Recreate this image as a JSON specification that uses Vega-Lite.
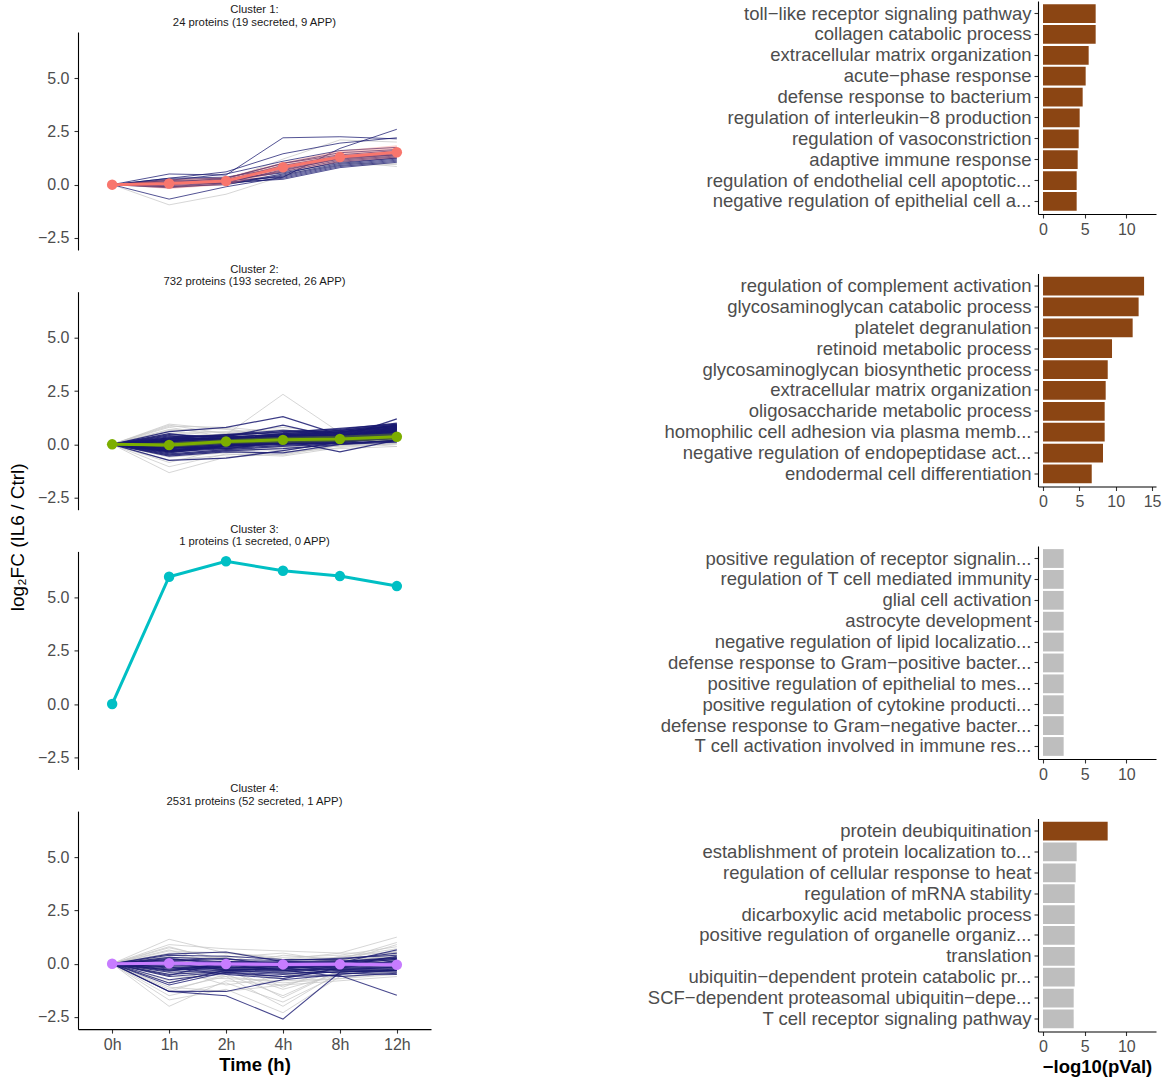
{
 "$schema": "https://vega.github.io/schema/vega-lite/v6.json",
 "padding": {"left": 9, "top": 1, "right": 2, "bottom": 1},
 "background": "white",
 "datasets": {
  "lines": [
   {"id":"1o1","c":1,"g":"o","0h":0,"1h":-0.95,"2h":-0.45,"4h":0.4,"8h":1.1,"12h":0.85},
   {"id":"1o2","c":1,"g":"o","0h":0,"1h":0.1,"2h":0.2,"4h":1.2,"8h":2.1,"12h":2.0},
   {"id":"1o3","c":1,"g":"o","0h":0,"1h":0.05,"2h":0.15,"4h":0.6,"8h":1.0,"12h":1.0},
   {"id":"1o4","c":1,"g":"o","0h":0,"1h":0.2,"2h":0.3,"4h":0.9,"8h":1.2,"12h":1.3},
   {"id":"1o5","c":1,"g":"o","0h":0,"1h":-0.1,"2h":0.0,"4h":0.5,"8h":0.9,"12h":0.95},
   {"id":"1s1","c":1,"g":"s","0h":0,"1h":0.5,"2h":0.45,"4h":2.2,"8h":2.25,"12h":2.15},
   {"id":"1s2","c":1,"g":"s","0h":0,"1h":-0.68,"2h":-0.1,"4h":0.35,"8h":1.7,"12h":2.6},
   {"id":"1s3","c":1,"g":"s","0h":0,"1h":0.3,"2h":0.6,"4h":1.45,"8h":1.95,"12h":2.2},
   {"id":"1s4","c":1,"g":"s","0h":0,"1h":0.2,"2h":0.5,"4h":1.1,"8h":1.6,"12h":1.75},
   {"id":"1s5","c":1,"g":"s","0h":0,"1h":0.1,"2h":0.3,"4h":1.0,"8h":1.4,"12h":1.6},
   {"id":"1s6","c":1,"g":"s","0h":0,"1h":0.05,"2h":0.2,"4h":0.9,"8h":1.35,"12h":1.5},
   {"id":"1s7","c":1,"g":"s","0h":0,"1h":0.15,"2h":0.25,"4h":0.75,"8h":1.25,"12h":1.45},
   {"id":"1s8","c":1,"g":"s","0h":0,"1h":-0.05,"2h":0.1,"4h":0.7,"8h":1.2,"12h":1.4},
   {"id":"1s9","c":1,"g":"s","0h":0,"1h":0.0,"2h":0.15,"4h":0.6,"8h":1.15,"12h":1.35},
   {"id":"1s10","c":1,"g":"s","0h":0,"1h":0.1,"2h":0.05,"4h":0.5,"8h":1.1,"12h":1.3},
   {"id":"1s11","c":1,"g":"s","0h":0,"1h":-0.1,"2h":0.0,"4h":0.45,"8h":1.0,"12h":1.25},
   {"id":"1s12","c":1,"g":"s","0h":0,"1h":0.2,"2h":0.1,"4h":0.4,"8h":0.95,"12h":1.2},
   {"id":"1s13","c":1,"g":"s","0h":0,"1h":0.05,"2h":0.2,"4h":0.35,"8h":0.9,"12h":1.15},
   {"id":"1s14","c":1,"g":"s","0h":0,"1h":-0.15,"2h":0.05,"4h":0.3,"8h":0.85,"12h":1.1},
   {"id":"1s15","c":1,"g":"s","0h":0,"1h":0.3,"2h":0.35,"4h":0.8,"8h":1.3,"12h":1.5},
   {"id":"1s16","c":1,"g":"s","0h":0,"1h":0.1,"2h":0.15,"4h":0.65,"8h":1.25,"12h":1.4},
   {"id":"1s17","c":1,"g":"s","0h":0,"1h":0.0,"2h":0.25,"4h":0.55,"8h":1.05,"12h":1.25},
   {"id":"1s18","c":1,"g":"s","0h":0,"1h":0.25,"2h":0.3,"4h":1.0,"8h":1.5,"12h":1.65},
   {"id":"1s19","c":1,"g":"s","0h":0,"1h":-0.1,"2h":0.1,"4h":0.25,"8h":0.8,"12h":1.05},
   {"id":"2o1","c":2,"g":"o","0h":0,"1h":-1.33,"2h":-0.6,"4h":-0.45,"8h":-0.05,"12h":0.15},
   {"id":"2o2","c":2,"g":"o","0h":0,"1h":0.2,"2h":0.45,"4h":2.35,"8h":0.55,"12h":0.45},
   {"id":"2o3","c":2,"g":"o","0h":0,"1h":-1.05,"2h":-0.45,"4h":-0.55,"8h":-0.15,"12h":0.05},
   {"id":"2o4","c":2,"g":"o","0h":0,"1h":0.95,"2h":0.7,"4h":0.35,"8h":0.2,"12h":0.3},
   {"id":"2o5","c":2,"g":"o","0h":0,"1h":0.85,"2h":0.8,"4h":0.55,"8h":0.45,"12h":0.6},
   {"id":"2o6","c":2,"g":"o","0h":0,"1h":-0.85,"2h":-0.2,"4h":-0.3,"8h":0.1,"12h":-0.1},
   {"id":"2o7","c":2,"g":"o","0h":0,"1h":0.7,"2h":0.55,"4h":0.8,"8h":0.5,"12h":0.55},
   {"id":"2o8","c":2,"g":"o","0h":0,"1h":0.6,"2h":0.4,"4h":0.2,"8h":0.3,"12h":0.45},
   {"id":"2o9","c":2,"g":"o","0h":0,"1h":-0.6,"2h":-0.4,"4h":-0.15,"8h":-0.1,"12h":0.05},
   {"id":"2o10","c":2,"g":"o","0h":0,"1h":0.5,"2h":0.6,"4h":0.45,"8h":0.6,"12h":0.7},
   {"id":"2o11","c":2,"g":"o","0h":0,"1h":-0.4,"2h":-0.1,"4h":0.1,"8h":0.0,"12h":0.2},
   {"id":"2o12","c":2,"g":"o","0h":0,"1h":0.4,"2h":0.2,"4h":0.0,"8h":0.15,"12h":0.25},
   {"id":"2o13","c":2,"g":"o","0h":0,"1h":-0.75,"2h":-0.5,"4h":-0.35,"8h":-0.2,"12h":-0.1},
   {"id":"2o14","c":2,"g":"o","0h":0,"1h":0.8,"2h":0.35,"4h":0.6,"8h":0.35,"12h":0.4},
   {"id":"2o15","c":2,"g":"o","0h":0,"1h":0.3,"2h":0.5,"4h":0.7,"8h":0.4,"12h":0.8},
   {"id":"2o16","c":2,"g":"o","0h":0,"1h":-0.3,"2h":0.1,"4h":-0.2,"8h":0.2,"12h":0.3},
   {"id":"2o17","c":2,"g":"o","0h":0,"1h":0.65,"2h":0.75,"4h":0.3,"8h":0.55,"12h":0.65},
   {"id":"2o18","c":2,"g":"o","0h":0,"1h":-0.5,"2h":-0.25,"4h":0.25,"8h":0.05,"12h":0.1},
   {"id":"2o19","c":2,"g":"o","0h":0,"1h":0.15,"2h":-0.3,"4h":-0.5,"8h":-0.05,"12h":0.0},
   {"id":"2o20","c":2,"g":"o","0h":0,"1h":0.9,"2h":0.5,"4h":0.1,"8h":0.25,"12h":0.35},
   {"id":"2s1","c":2,"g":"s","0h":0,"1h":0.6,"2h":0.8,"4h":1.3,"8h":0.45,"12h":0.65},
   {"id":"2s2","c":2,"g":"s","0h":0,"1h":-0.75,"2h":-0.65,"4h":-0.3,"8h":0.1,"12h":0.3},
   {"id":"2s3","c":2,"g":"s","0h":0,"1h":0.45,"2h":0.35,"4h":0.9,"8h":0.3,"12h":1.2},
   {"id":"2s4","c":2,"g":"s","0h":0,"1h":-0.3,"2h":-0.1,"4h":0.2,"8h":-0.35,"12h":0.2},
   {"id":"2s5","c":2,"g":"s","0h":0,"1h":0.35,"2h":0.4,"4h":0.6,"8h":0.7,"12h":1.0},
   {"id":"2s6","c":2,"g":"s","0h":0,"1h":0.3,"2h":0.45,"4h":0.55,"8h":0.75,"12h":0.95},
   {"id":"2s7","c":2,"g":"s","0h":0,"1h":0.25,"2h":0.3,"4h":0.5,"8h":0.65,"12h":0.9},
   {"id":"2s8","c":2,"g":"s","0h":0,"1h":0.2,"2h":0.35,"4h":0.45,"8h":0.6,"12h":0.85},
   {"id":"2s9","c":2,"g":"s","0h":0,"1h":0.15,"2h":0.25,"4h":0.4,"8h":0.55,"12h":0.8},
   {"id":"2s10","c":2,"g":"s","0h":0,"1h":0.1,"2h":0.3,"4h":0.35,"8h":0.5,"12h":0.75},
   {"id":"2s11","c":2,"g":"s","0h":0,"1h":0.05,"2h":0.2,"4h":0.3,"8h":0.45,"12h":0.7},
   {"id":"2s12","c":2,"g":"s","0h":0,"1h":0.0,"2h":0.15,"4h":0.3,"8h":0.4,"12h":0.65},
   {"id":"2s13","c":2,"g":"s","0h":0,"1h":-0.05,"2h":0.1,"4h":0.25,"8h":0.35,"12h":0.6},
   {"id":"2s14","c":2,"g":"s","0h":0,"1h":-0.1,"2h":0.05,"4h":0.2,"8h":0.3,"12h":0.55},
   {"id":"2s15","c":2,"g":"s","0h":0,"1h":-0.15,"2h":0.0,"4h":0.15,"8h":0.25,"12h":0.5},
   {"id":"2s16","c":2,"g":"s","0h":0,"1h":-0.2,"2h":-0.05,"4h":0.1,"8h":0.2,"12h":0.45},
   {"id":"2s17","c":2,"g":"s","0h":0,"1h":-0.25,"2h":-0.1,"4h":0.05,"8h":0.15,"12h":0.4},
   {"id":"2s18","c":2,"g":"s","0h":0,"1h":-0.3,"2h":-0.15,"4h":0.0,"8h":0.1,"12h":0.35},
   {"id":"2s19","c":2,"g":"s","0h":0,"1h":-0.35,"2h":-0.2,"4h":-0.05,"8h":0.08,"12h":0.3},
   {"id":"2s20","c":2,"g":"s","0h":0,"1h":-0.4,"2h":-0.1,"4h":0.05,"8h":0.05,"12h":0.2},
   {"id":"2s21","c":2,"g":"s","0h":0,"1h":-0.45,"2h":-0.25,"4h":-0.1,"8h":0.05,"12h":0.15},
   {"id":"2s22","c":2,"g":"s","0h":0,"1h":0.3,"2h":0.2,"4h":0.4,"8h":0.3,"12h":0.5},
   {"id":"2s23","c":2,"g":"s","0h":0,"1h":0.2,"2h":0.1,"4h":0.3,"8h":0.35,"12h":0.45},
   {"id":"2s24","c":2,"g":"s","0h":0,"1h":-0.2,"2h":0.2,"4h":0.35,"8h":0.45,"12h":0.6},
   {"id":"2s25","c":2,"g":"s","0h":0,"1h":0.1,"2h":0.4,"4h":0.2,"8h":0.25,"12h":0.7},
   {"id":"2s26","c":2,"g":"s","0h":0,"1h":-0.5,"2h":-0.3,"4h":-0.2,"8h":0.0,"12h":0.1},
   {"id":"2s27","c":2,"g":"s","0h":0,"1h":0.4,"2h":0.15,"4h":0.15,"8h":0.4,"12h":0.8},
   {"id":"2s28","c":2,"g":"s","0h":0,"1h":-0.1,"2h":-0.2,"4h":0.1,"8h":0.2,"12h":0.25},
   {"id":"2s29","c":2,"g":"s","0h":0,"1h":0.05,"2h":0.05,"4h":0.0,"8h":0.15,"12h":0.3},
   {"id":"2s30","c":2,"g":"s","0h":0,"1h":0.25,"2h":0.45,"4h":0.65,"8h":0.55,"12h":0.9},
   {"id":"2s31","c":2,"g":"s","0h":0,"1h":-0.55,"2h":-0.35,"4h":-0.4,"8h":0.0,"12h":0.2},
   {"id":"2s32","c":2,"g":"s","0h":0,"1h":0.15,"2h":0.3,"4h":0.15,"8h":0.3,"12h":0.6},
   {"id":"2s33","c":2,"g":"s","0h":0,"1h":-0.35,"2h":-0.05,"4h":0.3,"8h":0.1,"12h":0.4},
   {"id":"2s34","c":2,"g":"s","0h":0,"1h":0.5,"2h":0.2,"4h":0.05,"8h":0.2,"12h":0.35},
   {"id":"2s35","c":2,"g":"s","0h":0,"1h":0.0,"2h":0.25,"4h":0.45,"8h":0.35,"12h":0.75},
   {"id":"2s36","c":2,"g":"s","0h":0,"1h":0.1,"2h":0.2,"4h":0.4,"8h":0.6,"12h":0.85},
   {"id":"2s37","c":2,"g":"s","0h":0,"1h":-0.05,"2h":0.15,"4h":0.35,"8h":0.5,"12h":0.8},
   {"id":"2s38","c":2,"g":"s","0h":0,"1h":0.15,"2h":0.3,"4h":0.5,"8h":0.65,"12h":0.95},
   {"id":"2s39","c":2,"g":"s","0h":0,"1h":-0.2,"2h":0.0,"4h":0.2,"8h":0.35,"12h":0.6},
   {"id":"2s40","c":2,"g":"s","0h":0,"1h":-0.3,"2h":-0.05,"4h":0.15,"8h":0.3,"12h":0.55},
   {"id":"2s41","c":2,"g":"s","0h":0,"1h":0.05,"2h":0.1,"4h":0.25,"8h":0.4,"12h":0.7},
   {"id":"2s42","c":2,"g":"s","0h":0,"1h":-0.15,"2h":0.05,"4h":0.3,"8h":0.45,"12h":0.75},
   {"id":"2s43","c":2,"g":"s","0h":0,"1h":0.2,"2h":0.25,"4h":0.45,"8h":0.55,"12h":0.9},
   {"id":"2s44","c":2,"g":"s","0h":0,"1h":-0.25,"2h":-0.1,"4h":0.1,"8h":0.25,"12h":0.5},
   {"id":"2s45","c":2,"g":"s","0h":0,"1h":0.0,"2h":0.2,"4h":0.35,"8h":0.55,"12h":0.85},
   {"id":"3s1","c":3,"g":"s","0h":0,"1h":5.98,"2h":6.71,"4h":6.26,"8h":6.01,"12h":5.54},
   {"id":"4o1","c":4,"g":"o","0h":0,"1h":1.15,"2h":0.5,"4h":0.2,"8h":0.3,"12h":0.4},
   {"id":"4o2","c":4,"g":"o","0h":0,"1h":-2.0,"2h":-0.8,"4h":-1.0,"8h":-0.4,"12h":-0.3},
   {"id":"4o3","c":4,"g":"o","0h":0,"1h":-1.7,"2h":-1.2,"4h":-2.3,"8h":-0.6,"12h":-0.5},
   {"id":"4o4","c":4,"g":"o","0h":0,"1h":0.9,"2h":0.7,"4h":0.6,"8h":0.5,"12h":1.25},
   {"id":"4o5","c":4,"g":"o","0h":0,"1h":0.75,"2h":0.2,"4h":0.0,"8h":0.2,"12h":1.0},
   {"id":"4o6","c":4,"g":"o","0h":0,"1h":-1.5,"2h":-0.9,"4h":-1.8,"8h":-0.5,"12h":-0.2},
   {"id":"4o7","c":4,"g":"o","0h":0,"1h":0.6,"2h":0.5,"4h":0.3,"8h":0.4,"12h":0.8},
   {"id":"4o8","c":4,"g":"o","0h":0,"1h":-1.3,"2h":-0.5,"4h":-1.5,"8h":-0.3,"12h":-0.4},
   {"id":"4o9","c":4,"g":"o","0h":0,"1h":0.45,"2h":0.0,"4h":-0.4,"8h":-0.2,"12h":0.6},
   {"id":"4o10","c":4,"g":"o","0h":0,"1h":-1.1,"2h":-1.3,"4h":-1.0,"8h":-0.8,"12h":-0.6},
   {"id":"4o11","c":4,"g":"o","0h":0,"1h":0.3,"2h":0.3,"4h":0.5,"8h":0.1,"12h":0.9},
   {"id":"4o12","c":4,"g":"o","0h":0,"1h":-0.9,"2h":-0.3,"4h":-1.2,"8h":-0.5,"12h":-0.3},
   {"id":"4o13","c":4,"g":"o","0h":0,"1h":-0.6,"2h":-0.7,"4h":-0.8,"8h":-0.7,"12h":-0.5},
   {"id":"4o14","c":4,"g":"o","0h":0,"1h":0.2,"2h":-0.2,"4h":-0.3,"8h":0.3,"12h":0.7},
   {"id":"4o15","c":4,"g":"o","0h":0,"1h":-0.4,"2h":-0.6,"4h":-2.0,"8h":-0.4,"12h":-0.2},
   {"id":"4o16","c":4,"g":"o","0h":0,"1h":0.5,"2h":0.55,"4h":0.2,"8h":0.5,"12h":0.5},
   {"id":"4o17","c":4,"g":"o","0h":0,"1h":-0.2,"2h":-1.0,"4h":-0.6,"8h":-0.2,"12h":0.1},
   {"id":"4o18","c":4,"g":"o","0h":0,"1h":0.1,"2h":0.3,"4h":-0.5,"8h":-0.6,"12h":-0.4},
   {"id":"4o19","c":4,"g":"o","0h":0,"1h":-0.8,"2h":-0.2,"4h":-1.6,"8h":-0.3,"12h":0.0},
   {"id":"4o20","c":4,"g":"o","0h":0,"1h":0.65,"2h":-0.1,"4h":0.4,"8h":0.2,"12h":0.3},
   {"id":"4o21","c":4,"g":"o","0h":0,"1h":-0.3,"2h":0.1,"4h":-1.1,"8h":-0.1,"12h":0.2},
   {"id":"4o22","c":4,"g":"o","0h":0,"1h":0.35,"2h":-0.4,"4h":-0.7,"8h":0.0,"12h":0.45},
   {"id":"4o23","c":4,"g":"o","0h":0,"1h":-1.2,"2h":-0.6,"4h":-0.9,"8h":-0.7,"12h":-0.3},
   {"id":"4o24","c":4,"g":"o","0h":0,"1h":0.0,"2h":0.4,"4h":-0.2,"8h":0.35,"12h":0.55},
   {"id":"4o25","c":4,"g":"o","0h":0,"1h":-0.5,"2h":-0.3,"4h":0.0,"8h":-0.4,"12h":-0.2},
   {"id":"4o26","c":4,"g":"o","0h":0,"1h":0.8,"2h":0.1,"4h":-0.15,"8h":0.15,"12h":0.35},
   {"id":"4s1","c":4,"g":"s","0h":0,"1h":-1.3,"2h":-1.5,"4h":-2.6,"8h":-0.4,"12h":-0.3},
   {"id":"4s2","c":4,"g":"s","0h":0,"1h":-1.0,"2h":-0.4,"4h":-0.6,"8h":-0.55,"12h":-1.48},
   {"id":"4s3","c":4,"g":"s","0h":0,"1h":-1.3,"2h":-1.3,"4h":-0.75,"8h":-0.5,"12h":-0.3},
   {"id":"4s4","c":4,"g":"s","0h":0,"1h":0.45,"2h":0.55,"4h":0.1,"8h":0.05,"12h":0.65},
   {"id":"4s5","c":4,"g":"s","0h":0,"1h":0.4,"2h":0.35,"4h":0.2,"8h":0.2,"12h":0.5},
   {"id":"4s6","c":4,"g":"s","0h":0,"1h":0.3,"2h":0.2,"4h":0.15,"8h":0.25,"12h":0.4},
   {"id":"4s7","c":4,"g":"s","0h":0,"1h":0.2,"2h":0.1,"4h":0.05,"8h":0.1,"12h":0.3},
   {"id":"4s8","c":4,"g":"s","0h":0,"1h":0.1,"2h":0.0,"4h":-0.05,"8h":0.05,"12h":0.25},
   {"id":"4s9","c":4,"g":"s","0h":0,"1h":0.0,"2h":-0.1,"4h":-0.1,"8h":0.0,"12h":0.2},
   {"id":"4s10","c":4,"g":"s","0h":0,"1h":-0.1,"2h":-0.15,"4h":-0.2,"8h":-0.05,"12h":0.1},
   {"id":"4s11","c":4,"g":"s","0h":0,"1h":-0.2,"2h":-0.2,"4h":-0.25,"8h":-0.1,"12h":0.0},
   {"id":"4s12","c":4,"g":"s","0h":0,"1h":-0.3,"2h":-0.25,"4h":-0.3,"8h":-0.15,"12h":-0.1},
   {"id":"4s13","c":4,"g":"s","0h":0,"1h":-0.4,"2h":-0.3,"4h":-0.35,"8h":-0.2,"12h":-0.2},
   {"id":"4s14","c":4,"g":"s","0h":0,"1h":-0.5,"2h":-0.35,"4h":-0.4,"8h":-0.25,"12h":-0.3},
   {"id":"4s15","c":4,"g":"s","0h":0,"1h":-0.6,"2h":-0.4,"4h":-0.5,"8h":-0.3,"12h":-0.35},
   {"id":"4s16","c":4,"g":"s","0h":0,"1h":-0.75,"2h":-0.45,"4h":-0.6,"8h":-0.35,"12h":-0.4},
   {"id":"4s17","c":4,"g":"s","0h":0,"1h":-0.9,"2h":-0.3,"4h":-0.45,"8h":-0.4,"12h":-0.25},
   {"id":"4s18","c":4,"g":"s","0h":0,"1h":0.25,"2h":-0.05,"4h":-0.3,"8h":-0.6,"12h":-0.45},
   {"id":"4s19","c":4,"g":"s","0h":0,"1h":-0.55,"2h":0.1,"4h":-0.15,"8h":-0.1,"12h":0.35},
   {"id":"4s20","c":4,"g":"s","0h":0,"1h":0.15,"2h":0.25,"4h":-0.1,"8h":-0.3,"12h":-0.15},
   {"id":"4s21","c":4,"g":"s","0h":0,"1h":-0.15,"2h":-0.5,"4h":-0.7,"8h":-0.2,"12h":0.15},
   {"id":"4s22","c":4,"g":"s","0h":0,"1h":-0.35,"2h":0.05,"4h":0.1,"8h":0.15,"12h":-0.05},
   {"id":"4s23","c":4,"g":"s","0h":0,"1h":0.05,"2h":-0.3,"4h":-0.2,"8h":-0.45,"12h":-0.5},
   {"id":"4s24","c":4,"g":"s","0h":0,"1h":-0.25,"2h":-0.1,"4h":0.0,"8h":-0.15,"12h":0.05},
   {"id":"4s25","c":4,"g":"s","0h":0,"1h":0.1,"2h":-0.05,"4h":-0.15,"8h":-0.1,"12h":0.1},
   {"id":"4s26","c":4,"g":"s","0h":0,"1h":-0.05,"2h":-0.2,"4h":-0.1,"8h":-0.2,"12h":-0.15},
   {"id":"4s27","c":4,"g":"s","0h":0,"1h":0.2,"2h":0.05,"4h":-0.05,"8h":0.0,"12h":0.2},
   {"id":"4s28","c":4,"g":"s","0h":0,"1h":-0.3,"2h":-0.15,"4h":-0.2,"8h":-0.05,"12h":-0.1},
   {"id":"4s29","c":4,"g":"s","0h":0,"1h":0.0,"2h":0.1,"4h":0.05,"8h":0.1,"12h":0.25},
   {"id":"4s30","c":4,"g":"s","0h":0,"1h":-0.15,"2h":-0.25,"4h":-0.3,"8h":-0.25,"12h":-0.2}
  ],
  "means": [
   {"c":1,"time":"0h","v":0,"lo":0,"hi":0},
   {"c":1,"time":"1h","v":0.05,"lo":-0.2,"hi":0.25},
   {"c":1,"time":"2h","v":0.17,"lo":-0.02,"hi":0.35},
   {"c":1,"time":"4h","v":0.82,"lo":0.6,"hi":1.05},
   {"c":1,"time":"8h","v":1.3,"lo":1.05,"hi":1.6},
   {"c":1,"time":"12h","v":1.52,"lo":1.25,"hi":1.85},
   {"c":2,"time":"0h","v":0,"lo":0,"hi":0},
   {"c":2,"time":"1h","v":-0.03,"lo":-0.15,"hi":0.1},
   {"c":2,"time":"2h","v":0.13,"lo":0.02,"hi":0.24},
   {"c":2,"time":"4h","v":0.21,"lo":0.08,"hi":0.35},
   {"c":2,"time":"8h","v":0.25,"lo":0.12,"hi":0.4},
   {"c":2,"time":"12h","v":0.36,"lo":0.2,"hi":0.52},
   {"c":3,"time":"0h","v":0,"lo":0,"hi":0},
   {"c":3,"time":"1h","v":5.98,"lo":5.98,"hi":5.98},
   {"c":3,"time":"2h","v":6.71,"lo":6.71,"hi":6.71},
   {"c":3,"time":"4h","v":6.26,"lo":6.26,"hi":6.26},
   {"c":3,"time":"8h","v":6.01,"lo":6.01,"hi":6.01},
   {"c":3,"time":"12h","v":5.54,"lo":5.54,"hi":5.54},
   {"c":4,"time":"0h","v":0,"lo":0,"hi":0},
   {"c":4,"time":"1h","v":0.02,"lo":-0.1,"hi":0.13},
   {"c":4,"time":"2h","v":-0.01,"lo":-0.11,"hi":0.09},
   {"c":4,"time":"4h","v":-0.03,"lo":-0.13,"hi":0.07},
   {"c":4,"time":"8h","v":-0.02,"lo":-0.12,"hi":0.08},
   {"c":4,"time":"12h","v":-0.05,"lo":-0.15,"hi":0.06}
  ],
  "bars": [
   {"c":1,"term":"toll−like receptor signaling pathway","v":6.32,"sig":"yes"},
   {"c":1,"term":"collagen catabolic process","v":6.32,"sig":"yes"},
   {"c":1,"term":"extracellular matrix organization","v":5.48,"sig":"yes"},
   {"c":1,"term":"acute−phase response","v":5.12,"sig":"yes"},
   {"c":1,"term":"defense response to bacterium","v":4.76,"sig":"yes"},
   {"c":1,"term":"regulation of interleukin−8 production","v":4.4,"sig":"yes"},
   {"c":1,"term":"regulation of vasoconstriction","v":4.28,"sig":"yes"},
   {"c":1,"term":"adaptive immune response","v":4.16,"sig":"yes"},
   {"c":1,"term":"regulation of endothelial cell apoptotic...","v":4.04,"sig":"yes"},
   {"c":1,"term":"negative regulation of epithelial cell a...","v":4.04,"sig":"yes"},
   {"c":2,"term":"regulation of complement activation","v":13.9,"sig":"yes"},
   {"c":2,"term":"glycosaminoglycan catabolic process","v":13.15,"sig":"yes"},
   {"c":2,"term":"platelet degranulation","v":12.33,"sig":"yes"},
   {"c":2,"term":"retinoid metabolic process","v":9.49,"sig":"yes"},
   {"c":2,"term":"glycosaminoglycan biosynthetic process","v":8.9,"sig":"yes"},
   {"c":2,"term":"extracellular matrix organization","v":8.62,"sig":"yes"},
   {"c":2,"term":"oligosaccharide metabolic process","v":8.48,"sig":"yes"},
   {"c":2,"term":"homophilic cell adhesion via plasma memb...","v":8.48,"sig":"yes"},
   {"c":2,"term":"negative regulation of endopeptidase act...","v":8.25,"sig":"yes"},
   {"c":2,"term":"endodermal cell differentiation","v":6.7,"sig":"yes"},
   {"c":3,"term":"positive regulation of receptor signalin...","v":2.48,"sig":"no"},
   {"c":3,"term":"regulation of T cell mediated immunity","v":2.48,"sig":"no"},
   {"c":3,"term":"glial cell activation","v":2.48,"sig":"no"},
   {"c":3,"term":"astrocyte development","v":2.48,"sig":"no"},
   {"c":3,"term":"negative regulation of lipid localizatio...","v":2.48,"sig":"no"},
   {"c":3,"term":"defense response to Gram−positive bacter...","v":2.48,"sig":"no"},
   {"c":3,"term":"positive regulation of epithelial to mes...","v":2.48,"sig":"no"},
   {"c":3,"term":"positive regulation of cytokine producti...","v":2.48,"sig":"no"},
   {"c":3,"term":"defense response to Gram−negative bacter...","v":2.48,"sig":"no"},
   {"c":3,"term":"T cell activation involved in immune res...","v":2.48,"sig":"no"},
   {"c":4,"term":"protein deubiquitination","v":7.76,"sig":"yes"},
   {"c":4,"term":"establishment of protein localization to...","v":4.04,"sig":"no"},
   {"c":4,"term":"regulation of cellular response to heat","v":3.92,"sig":"no"},
   {"c":4,"term":"regulation of mRNA stability","v":3.8,"sig":"no"},
   {"c":4,"term":"dicarboxylic acid metabolic process","v":3.8,"sig":"no"},
   {"c":4,"term":"positive regulation of organelle organiz...","v":3.8,"sig":"no"},
   {"c":4,"term":"translation","v":3.8,"sig":"no"},
   {"c":4,"term":"ubiquitin−dependent protein catabolic pr...","v":3.8,"sig":"no"},
   {"c":4,"term":"SCF−dependent proteasomal ubiquitin−depe...","v":3.68,"sig":"no"},
   {"c":4,"term":"T cell receptor signaling pathway","v":3.68,"sig":"no"}
  ]
 },
 "spacing": 216,
 "hconcat": [
  {
   "title": {"text": "log₂FC (IL6 / Ctrl)", "orient": "left", "anchor": "middle", "fontSize": 19, "fontWeight": "normal", "color": "black", "offset": 9, "lineHeight": 21, "frame": "bounds"},
   "spacing": 10.7,
   "resolve": {"scale": {"x": "independent", "y": "independent"}},
   "vconcat": [
    {
     "width": 353, "height": 249,
     "title": {"text": ["Cluster 1:", "24 proteins (19 secreted, 9 APP)"], "frame": "group", "offset": -27},
     "layer": [
      {"mark": {"type": "rule", "strokeDash": [5, 4], "color": "#444", "strokeWidth": 1.1},
       "encoding": {"y": {"datum": 0, "type": "quantitative", "scale": {"domain": [-3.07, 7.17], "nice": false, "zero": false, "range": [249, 31]}, "axis": {"values": [-2.5, 0, 2.5, 5], "format": ".1f", "title": null, "labelPadding": 5}}}},
      {"data": {"name": "lines"}, "transform": [{"filter": "datum.c == 1 && datum.g == 'o'"}, {"fold": ["0h", "1h", "2h", "4h", "8h", "12h"], "as": ["time", "v"]}],
       "mark": {"type": "line", "color": "#C4C4C4", "opacity": 0.7, "strokeWidth": 1},
       "encoding": {"x": {"field": "time", "type": "ordinal", "scale": {"type": "point", "padding": 0.6, "domain": ["0h", "1h", "2h", "4h", "8h", "12h"]}, "axis": null},
                    "y": {"field": "v", "type": "quantitative", "scale": {"domain": [-3.07, 7.17], "nice": false, "zero": false, "range": [249, 31]}, "axis": {"values": [-2.5, 0, 2.5, 5], "format": ".1f", "title": null, "labelPadding": 5}},
                    "detail": {"field": "id"}}},
      {"data": {"name": "lines"}, "transform": [{"filter": "datum.c == 1 && datum.g == 's'"}, {"fold": ["0h", "1h", "2h", "4h", "8h", "12h"], "as": ["time", "v"]}],
       "mark": {"type": "line", "color": "#191970", "opacity": 0.75, "strokeWidth": 1},
       "encoding": {"x": {"field": "time", "type": "ordinal", "scale": {"type": "point", "padding": 0.6, "domain": ["0h", "1h", "2h", "4h", "8h", "12h"]}, "axis": null},
                    "y": {"field": "v", "type": "quantitative", "scale": {"domain": [-3.07, 7.17], "nice": false, "zero": false, "range": [249, 31]}, "axis": {"values": [-2.5, 0, 2.5, 5], "format": ".1f", "title": null, "labelPadding": 5}},
                    "detail": {"field": "id"}}},
      {"data": {"name": "means"}, "transform": [{"filter": "datum.c == 1"}],
       "mark": {"type": "area", "color": "#F8766D", "opacity": 0.35},
       "encoding": {"x": {"field": "time", "type": "ordinal", "scale": {"type": "point", "padding": 0.6, "domain": ["0h", "1h", "2h", "4h", "8h", "12h"]}, "axis": null},
                    "y": {"field": "lo", "type": "quantitative", "scale": {"domain": [-3.07, 7.17], "nice": false, "zero": false, "range": [249, 31]}, "axis": {"values": [-2.5, 0, 2.5, 5], "format": ".1f", "title": null, "labelPadding": 5}},
                    "y2": {"field": "hi"}}},
      {"data": {"name": "means"}, "transform": [{"filter": "datum.c == 1"}],
       "mark": {"type": "line", "color": "#F8766D", "strokeWidth": 3},
       "encoding": {"x": {"field": "time", "type": "ordinal", "scale": {"type": "point", "padding": 0.6, "domain": ["0h", "1h", "2h", "4h", "8h", "12h"]}, "axis": null},
                    "y": {"field": "v", "type": "quantitative", "scale": {"domain": [-3.07, 7.17], "nice": false, "zero": false, "range": [249, 31]}, "axis": {"values": [-2.5, 0, 2.5, 5], "format": ".1f", "title": null, "labelPadding": 5}}}},
      {"data": {"name": "means"}, "transform": [{"filter": "datum.c == 1"}],
       "mark": {"type": "circle", "color": "#F8766D", "size": 110, "opacity": 1},
       "encoding": {"x": {"field": "time", "type": "ordinal", "scale": {"type": "point", "padding": 0.6, "domain": ["0h", "1h", "2h", "4h", "8h", "12h"]}, "axis": null},
                    "y": {"field": "v", "type": "quantitative", "scale": {"domain": [-3.07, 7.17], "nice": false, "zero": false, "range": [249, 31]}, "axis": {"values": [-2.5, 0, 2.5, 5], "format": ".1f", "title": null, "labelPadding": 5}}}}
     ]
    },
    {
     "width": 353, "height": 249,
     "title": {"text": ["Cluster 2:", "732 proteins (193 secreted, 26 APP)"], "frame": "group", "offset": -27},
     "layer": [
      {"mark": {"type": "rule", "strokeDash": [5, 4], "color": "#444", "strokeWidth": 1.1},
       "encoding": {"y": {"datum": 0, "type": "quantitative", "scale": {"domain": [-3.07, 7.17], "nice": false, "zero": false, "range": [249, 31]}, "axis": {"values": [-2.5, 0, 2.5, 5], "format": ".1f", "title": null, "labelPadding": 5}}}},
      {"data": {"name": "lines"}, "transform": [{"filter": "datum.c == 2 && datum.g == 'o'"}, {"fold": ["0h", "1h", "2h", "4h", "8h", "12h"], "as": ["time", "v"]}],
       "mark": {"type": "line", "color": "#C4C4C4", "opacity": 0.7, "strokeWidth": 1},
       "encoding": {"x": {"field": "time", "type": "ordinal", "scale": {"type": "point", "padding": 0.6, "domain": ["0h", "1h", "2h", "4h", "8h", "12h"]}, "axis": null},
                    "y": {"field": "v", "type": "quantitative", "scale": {"domain": [-3.07, 7.17], "nice": false, "zero": false, "range": [249, 31]}, "axis": {"values": [-2.5, 0, 2.5, 5], "format": ".1f", "title": null, "labelPadding": 5}},
                    "detail": {"field": "id"}}},
      {"data": {"name": "lines"}, "transform": [{"filter": "datum.c == 2 && datum.g == 's'"}, {"fold": ["0h", "1h", "2h", "4h", "8h", "12h"], "as": ["time", "v"]}],
       "mark": {"type": "line", "color": "#191970", "opacity": 0.85, "strokeWidth": 1.3},
       "encoding": {"x": {"field": "time", "type": "ordinal", "scale": {"type": "point", "padding": 0.6, "domain": ["0h", "1h", "2h", "4h", "8h", "12h"]}, "axis": null},
                    "y": {"field": "v", "type": "quantitative", "scale": {"domain": [-3.07, 7.17], "nice": false, "zero": false, "range": [249, 31]}, "axis": {"values": [-2.5, 0, 2.5, 5], "format": ".1f", "title": null, "labelPadding": 5}},
                    "detail": {"field": "id"}}},
      {"data": {"name": "means"}, "transform": [{"filter": "datum.c == 2"}],
       "mark": {"type": "area", "color": "#7CAE00", "opacity": 0.35},
       "encoding": {"x": {"field": "time", "type": "ordinal", "scale": {"type": "point", "padding": 0.6, "domain": ["0h", "1h", "2h", "4h", "8h", "12h"]}, "axis": null},
                    "y": {"field": "lo", "type": "quantitative", "scale": {"domain": [-3.07, 7.17], "nice": false, "zero": false, "range": [249, 31]}, "axis": {"values": [-2.5, 0, 2.5, 5], "format": ".1f", "title": null, "labelPadding": 5}},
                    "y2": {"field": "hi"}}},
      {"data": {"name": "means"}, "transform": [{"filter": "datum.c == 2"}],
       "mark": {"type": "line", "color": "#7CAE00", "strokeWidth": 3},
       "encoding": {"x": {"field": "time", "type": "ordinal", "scale": {"type": "point", "padding": 0.6, "domain": ["0h", "1h", "2h", "4h", "8h", "12h"]}, "axis": null},
                    "y": {"field": "v", "type": "quantitative", "scale": {"domain": [-3.07, 7.17], "nice": false, "zero": false, "range": [249, 31]}, "axis": {"values": [-2.5, 0, 2.5, 5], "format": ".1f", "title": null, "labelPadding": 5}}}},
      {"data": {"name": "means"}, "transform": [{"filter": "datum.c == 2"}],
       "mark": {"type": "circle", "color": "#7CAE00", "size": 110, "opacity": 1},
       "encoding": {"x": {"field": "time", "type": "ordinal", "scale": {"type": "point", "padding": 0.6, "domain": ["0h", "1h", "2h", "4h", "8h", "12h"]}, "axis": null},
                    "y": {"field": "v", "type": "quantitative", "scale": {"domain": [-3.07, 7.17], "nice": false, "zero": false, "range": [249, 31]}, "axis": {"values": [-2.5, 0, 2.5, 5], "format": ".1f", "title": null, "labelPadding": 5}}}}
     ]
    },
    {
     "width": 353, "height": 249,
     "title": {"text": ["Cluster 3:", "1 proteins (1 secreted, 0 APP)"], "frame": "group", "offset": -27},
     "layer": [
      {"mark": {"type": "rule", "strokeDash": [5, 4], "color": "#444", "strokeWidth": 1.1},
       "encoding": {"y": {"datum": 0, "type": "quantitative", "scale": {"domain": [-3.07, 7.17], "nice": false, "zero": false, "range": [249, 31]}, "axis": {"values": [-2.5, 0, 2.5, 5], "format": ".1f", "title": null, "labelPadding": 5}}}},
      {"data": {"name": "lines"}, "transform": [{"filter": "datum.c == 3 && datum.g == 's'"}, {"fold": ["0h", "1h", "2h", "4h", "8h", "12h"], "as": ["time", "v"]}],
       "mark": {"type": "line", "color": "#191970", "opacity": 0.75, "strokeWidth": 1},
       "encoding": {"x": {"field": "time", "type": "ordinal", "scale": {"type": "point", "padding": 0.6, "domain": ["0h", "1h", "2h", "4h", "8h", "12h"]}, "axis": null},
                    "y": {"field": "v", "type": "quantitative", "scale": {"domain": [-3.07, 7.17], "nice": false, "zero": false, "range": [249, 31]}, "axis": {"values": [-2.5, 0, 2.5, 5], "format": ".1f", "title": null, "labelPadding": 5}},
                    "detail": {"field": "id"}}},
      {"data": {"name": "means"}, "transform": [{"filter": "datum.c == 3"}],
       "mark": {"type": "line", "color": "#00BFC4", "strokeWidth": 3},
       "encoding": {"x": {"field": "time", "type": "ordinal", "scale": {"type": "point", "padding": 0.6, "domain": ["0h", "1h", "2h", "4h", "8h", "12h"]}, "axis": null},
                    "y": {"field": "v", "type": "quantitative", "scale": {"domain": [-3.07, 7.17], "nice": false, "zero": false, "range": [249, 31]}, "axis": {"values": [-2.5, 0, 2.5, 5], "format": ".1f", "title": null, "labelPadding": 5}}}},
      {"data": {"name": "means"}, "transform": [{"filter": "datum.c == 3"}],
       "mark": {"type": "circle", "color": "#00BFC4", "size": 110, "opacity": 1},
       "encoding": {"x": {"field": "time", "type": "ordinal", "scale": {"type": "point", "padding": 0.6, "domain": ["0h", "1h", "2h", "4h", "8h", "12h"]}, "axis": null},
                    "y": {"field": "v", "type": "quantitative", "scale": {"domain": [-3.07, 7.17], "nice": false, "zero": false, "range": [249, 31]}, "axis": {"values": [-2.5, 0, 2.5, 5], "format": ".1f", "title": null, "labelPadding": 5}}}}
     ]
    },
    {
     "width": 353, "height": 249,
     "title": {"text": ["Cluster 4:", "2531 proteins (52 secreted, 1 APP)"], "frame": "group", "offset": -27},
     "layer": [
      {"mark": {"type": "rule", "strokeDash": [5, 4], "color": "#444", "strokeWidth": 1.1},
       "encoding": {"y": {"datum": 0, "type": "quantitative", "scale": {"domain": [-3.07, 7.17], "nice": false, "zero": false, "range": [249, 31]}, "axis": {"values": [-2.5, 0, 2.5, 5], "format": ".1f", "title": null, "labelPadding": 5}}}},
      {"data": {"name": "lines"}, "transform": [{"filter": "datum.c == 4 && datum.g == 'o'"}, {"fold": ["0h", "1h", "2h", "4h", "8h", "12h"], "as": ["time", "v"]}],
       "mark": {"type": "line", "color": "#C4C4C4", "opacity": 0.7, "strokeWidth": 1},
       "encoding": {"x": {"field": "time", "type": "ordinal", "scale": {"type": "point", "padding": 0.6, "domain": ["0h", "1h", "2h", "4h", "8h", "12h"]}, "axis": {"title": "Time (h)", "labelAngle": 0, "titleFontSize": 18.5, "titleFontWeight": "bold", "titleColor": "black", "titlePadding": 3, "labelPadding": 3}},
                    "y": {"field": "v", "type": "quantitative", "scale": {"domain": [-3.07, 7.17], "nice": false, "zero": false, "range": [249, 31]}, "axis": {"values": [-2.5, 0, 2.5, 5], "format": ".1f", "title": null, "labelPadding": 5}},
                    "detail": {"field": "id"}}},
      {"data": {"name": "lines"}, "transform": [{"filter": "datum.c == 4 && datum.g == 's'"}, {"fold": ["0h", "1h", "2h", "4h", "8h", "12h"], "as": ["time", "v"]}],
       "mark": {"type": "line", "color": "#191970", "opacity": 0.8, "strokeWidth": 1.1},
       "encoding": {"x": {"field": "time", "type": "ordinal", "scale": {"type": "point", "padding": 0.6, "domain": ["0h", "1h", "2h", "4h", "8h", "12h"]}, "axis": {"title": "Time (h)", "labelAngle": 0, "titleFontSize": 18.5, "titleFontWeight": "bold", "titleColor": "black", "titlePadding": 3, "labelPadding": 3}},
                    "y": {"field": "v", "type": "quantitative", "scale": {"domain": [-3.07, 7.17], "nice": false, "zero": false, "range": [249, 31]}, "axis": {"values": [-2.5, 0, 2.5, 5], "format": ".1f", "title": null, "labelPadding": 5}},
                    "detail": {"field": "id"}}},
      {"data": {"name": "means"}, "transform": [{"filter": "datum.c == 4"}],
       "mark": {"type": "area", "color": "#C77CFF", "opacity": 0.35},
       "encoding": {"x": {"field": "time", "type": "ordinal", "scale": {"type": "point", "padding": 0.6, "domain": ["0h", "1h", "2h", "4h", "8h", "12h"]}, "axis": {"title": "Time (h)", "labelAngle": 0, "titleFontSize": 18.5, "titleFontWeight": "bold", "titleColor": "black", "titlePadding": 3, "labelPadding": 3}},
                    "y": {"field": "lo", "type": "quantitative", "scale": {"domain": [-3.07, 7.17], "nice": false, "zero": false, "range": [249, 31]}, "axis": {"values": [-2.5, 0, 2.5, 5], "format": ".1f", "title": null, "labelPadding": 5}},
                    "y2": {"field": "hi"}}},
      {"data": {"name": "means"}, "transform": [{"filter": "datum.c == 4"}],
       "mark": {"type": "line", "color": "#C77CFF", "strokeWidth": 3},
       "encoding": {"x": {"field": "time", "type": "ordinal", "scale": {"type": "point", "padding": 0.6, "domain": ["0h", "1h", "2h", "4h", "8h", "12h"]}, "axis": {"title": "Time (h)", "labelAngle": 0, "titleFontSize": 18.5, "titleFontWeight": "bold", "titleColor": "black", "titlePadding": 3, "labelPadding": 3}},
                    "y": {"field": "v", "type": "quantitative", "scale": {"domain": [-3.07, 7.17], "nice": false, "zero": false, "range": [249, 31]}, "axis": {"values": [-2.5, 0, 2.5, 5], "format": ".1f", "title": null, "labelPadding": 5}}}},
      {"data": {"name": "means"}, "transform": [{"filter": "datum.c == 4"}],
       "mark": {"type": "circle", "color": "#C77CFF", "size": 110, "opacity": 1},
       "encoding": {"x": {"field": "time", "type": "ordinal", "scale": {"type": "point", "padding": 0.6, "domain": ["0h", "1h", "2h", "4h", "8h", "12h"]}, "axis": {"title": "Time (h)", "labelAngle": 0, "titleFontSize": 18.5, "titleFontWeight": "bold", "titleColor": "black", "titlePadding": 3, "labelPadding": 3}},
                    "y": {"field": "v", "type": "quantitative", "scale": {"domain": [-3.07, 7.17], "nice": false, "zero": false, "range": [249, 31]}, "axis": {"values": [-2.5, 0, 2.5, 5], "format": ".1f", "title": null, "labelPadding": 5}}}}
     ]
    }
   ]
  },
  {
   "spacing": 36.5,
   "resolve": {"scale": {"x": "independent", "y": "independent"}},
   "vconcat": [
    {"width": 118, "height": 213, "data": {"name": "bars"}, "transform": [{"filter": "datum.c == 1"}],
     "mark": {"type": "bar"},
     "encoding": {"y": {"field": "term", "type": "nominal", "sort": null, "scale": {"paddingInner": 0.1, "paddingOuter": 0.15}, "axis": {"title": null, "labelLimit": 600, "labelFontSize": 18.5, "labelPadding": 3}},
                  "x": {"field": "v", "type": "quantitative", "scale": {"domain": [-0.6, 13.56], "nice": false, "zero": false}, "axis": {"values": [0, 5, 10], "title": null}},
                  "color": {"field": "sig", "type": "nominal", "scale": {"domain": ["yes", "no"], "range": ["#8B4513", "#BEBEBE"]}, "legend": null}}},
    {"width": 118, "height": 213, "data": {"name": "bars"}, "transform": [{"filter": "datum.c == 2"}],
     "mark": {"type": "bar"},
     "encoding": {"y": {"field": "term", "type": "nominal", "sort": null, "scale": {"paddingInner": 0.1, "paddingOuter": 0.15}, "axis": {"title": null, "labelLimit": 600, "labelFontSize": 18.5, "labelPadding": 3}},
                  "x": {"field": "v", "type": "quantitative", "scale": {"domain": [-0.69, 15.54], "nice": false, "zero": false}, "axis": {"values": [0, 5, 10, 15], "title": null}},
                  "color": {"field": "sig", "type": "nominal", "scale": {"domain": ["yes", "no"], "range": ["#8B4513", "#BEBEBE"]}, "legend": null}}},
    {"width": 118, "height": 213, "data": {"name": "bars"}, "transform": [{"filter": "datum.c == 3"}],
     "mark": {"type": "bar"},
     "encoding": {"y": {"field": "term", "type": "nominal", "sort": null, "scale": {"paddingInner": 0.1, "paddingOuter": 0.15}, "axis": {"title": null, "labelLimit": 600, "labelFontSize": 18.5, "labelPadding": 3}},
                  "x": {"field": "v", "type": "quantitative", "scale": {"domain": [-0.6, 13.56], "nice": false, "zero": false}, "axis": {"values": [0, 5, 10], "title": null}},
                  "color": {"field": "sig", "type": "nominal", "scale": {"domain": ["yes", "no"], "range": ["#8B4513", "#BEBEBE"]}, "legend": null}}},
    {"width": 118, "height": 213, "data": {"name": "bars"}, "transform": [{"filter": "datum.c == 4"}],
     "mark": {"type": "bar"},
     "encoding": {"y": {"field": "term", "type": "nominal", "sort": null, "scale": {"paddingInner": 0.1, "paddingOuter": 0.15}, "axis": {"title": null, "labelLimit": 600, "labelFontSize": 18.5, "labelPadding": 3}},
                  "x": {"field": "v", "type": "quantitative", "scale": {"domain": [-0.6, 13.56], "nice": false, "zero": false}, "axis": {"values": [0, 5, 10], "title": "−log10(pVal)", "titleFontSize": 18.5, "titleFontWeight": "bold", "titleColor": "black", "titlePadding": 3}},
                  "color": {"field": "sig", "type": "nominal", "scale": {"domain": ["yes", "no"], "range": ["#8B4513", "#BEBEBE"]}, "legend": null}}}
   ]
  }
 ],
 "config": {
  "font": "Liberation Sans",
  "view": {"stroke": null},
  "axis": {"labelFont": "Liberation Sans", "titleFont": "Liberation Sans", "labelFontSize": 16, "labelColor": "#4D4D4D", "domainColor": "#000000", "domainWidth": 1.1, "tickColor": "#333333", "tickSize": 4, "tickWidth": 1.1, "labelPadding": 3, "grid": false},
  "title": {"font": "Liberation Sans", "fontSize": 11.3, "fontWeight": "normal", "color": "#1A1A1A", "anchor": "middle", "lineHeight": 12.5}
 }
}
